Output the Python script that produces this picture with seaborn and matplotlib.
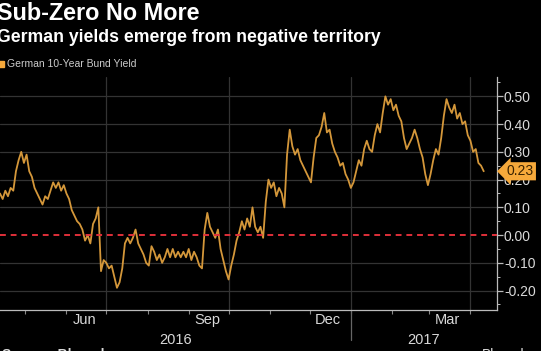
import pandas as pd
import matplotlib.pyplot as plt
import matplotlib.dates as mdates
import matplotlib.ticker as mticker
import matplotlib.transforms as mtrans
import seaborn as sns

# ------------------------------------------------------------------
# Daten: Rendite der 10-jaehrigen Bundesanleihe (alle 2 Tage abgelesen)
# ------------------------------------------------------------------
start_date = "2016-04-12"
bund_yield = [
    0.15, 0.13, 0.16, 0.14, 0.17, 0.16, 0.23, 0.27, 0.30, 0.26,
    0.29, 0.23, 0.21, 0.17, 0.15, 0.13, 0.11, 0.14, 0.13, 0.16,
    0.19, 0.17, 0.19, 0.16, 0.18, 0.15, 0.13, 0.09, 0.07, 0.05,
    0.04, 0.02, -0.02, 0.00, -0.03, 0.04, 0.06, 0.10, -0.13, -0.09,
    -0.10, -0.12, -0.11, -0.15, -0.19, -0.17, -0.12, -0.03, -0.01, -0.03,
    -0.01, 0.02, -0.03, -0.05, -0.07, -0.10, -0.11, -0.04, -0.06, -0.09,
    -0.07, -0.10, -0.08, -0.05, -0.08, -0.05, -0.08, -0.06, -0.08, -0.06,
    -0.08, -0.05, -0.09, -0.06, -0.08, -0.11, -0.12, 0.02, 0.08, 0.03,
    0.01, -0.01, 0.02, -0.05, -0.09, -0.13, -0.16, -0.11, -0.07, -0.02,
    0.01, 0.05, 0.02, 0.06, 0.03, 0.10, 0.03, 0.01, 0.03, -0.01,
    0.12, 0.20, 0.17, 0.19, 0.14, 0.17, 0.15, 0.10, 0.29, 0.38,
    0.32, 0.29, 0.31, 0.27, 0.25, 0.23, 0.21, 0.19, 0.28, 0.35,
    0.36, 0.39, 0.44, 0.37, 0.38, 0.33, 0.30, 0.28, 0.25, 0.26,
    0.22, 0.20, 0.17, 0.19, 0.23, 0.27, 0.25, 0.31, 0.34, 0.31,
    0.30, 0.36, 0.40, 0.37, 0.44, 0.50, 0.47, 0.49, 0.45, 0.47,
    0.43, 0.41, 0.35, 0.31, 0.33, 0.35, 0.38, 0.35, 0.31, 0.28,
    0.22, 0.18, 0.22, 0.27, 0.31, 0.29, 0.35, 0.43, 0.49, 0.46,
    0.44, 0.47, 0.42, 0.44, 0.40, 0.41, 0.36, 0.34, 0.30, 0.31,
    0.26, 0.25, 0.23,
]
y_ticks = [-0.20, -0.10, 0.00, 0.10, 0.20, 0.30, 0.40, 0.50]
month_labels = ["Jun", "Sep", "Dec", "Mar"]
year_labels = ["2016", "2017"]
last_value = "0.23"

df = pd.DataFrame({
    "Datum": pd.date_range(start_date, periods=len(bund_yield), freq="2D"),
    "Rendite": bund_yield,
})

# ------------------------------------------------------------------
# Stil
# ------------------------------------------------------------------
bg = "black"
txt = "#d9d9d9"
gold = "#d4973a"
grid_c = "#333333"

sns.set_theme(style="dark", rc={
    "figure.facecolor": bg, "axes.facecolor": bg, "savefig.facecolor": bg,
    "axes.unicode_minus": False,
})
plt.rcParams["font.family"] = ["Liberation Sans", "DejaVu Sans"]

fig = plt.figure(figsize=(5.41, 3.51), dpi=100)
ax = fig.add_axes([0.0, 0.1168, 0.9187, 0.664])

# Gitterlinien
for v in y_ticks:
    if v != 0:
        ax.axhline(v, color=grid_c, lw=0.9, zorder=0)
for q in pd.date_range("2016-04-01", "2017-04-01", freq="QS"):
    ax.axvline(q, color=grid_c, lw=0.9, zorder=0)

sns.lineplot(data=df, x="Datum", y="Rendite", color=gold, lw=1.3, ax=ax, zorder=3)
ax.axhline(0, color="#e0303a", lw=1.4, ls=(0, (3, 2.5)), zorder=4)

ax.set_xlim(pd.Timestamp("2016-04-12"), pd.Timestamp("2017-04-21"))
ax.set_ylim(-0.27, 0.57)
ax.set_xlabel("")
ax.set_ylabel("")

# Achsen
for s in ["top", "left"]:
    ax.spines[s].set_visible(False)
for s in ["right", "bottom"]:
    ax.spines[s].set_visible(True)
    ax.spines[s].set_color("#bbbbbb")
    ax.spines[s].set_linewidth(0.9)

ax.yaxis.tick_right()
ax.set_yticks(y_ticks)
ax.yaxis.set_major_formatter(mticker.FuncFormatter(lambda v, p: f"{v:.2f}"))
ax.yaxis.set_minor_locator(mticker.MultipleLocator(0.05))
ax.tick_params(axis="y", which="major", direction="out", length=4, width=0.9,
               color="#bbbbbb", labelcolor=txt, labelsize=10, pad=1, right=True, left=False)
ax.tick_params(axis="y", which="minor", direction="out", length=2, width=0.7,
               color="#bbbbbb", right=True, left=False)

ax.xaxis.set_major_locator(mdates.MonthLocator(bymonth=[6, 9, 12, 3], bymonthday=15))
ax.xaxis.set_major_formatter(mticker.FuncFormatter(
    lambda v, p: mdates.num2date(v).strftime("%b")))
ax.xaxis.set_minor_locator(mdates.MonthLocator())
ax.tick_params(axis="x", which="major", length=0, labelcolor=txt, labelsize=10.5, pad=2)
ax.tick_params(axis="x", which="minor", direction="out", length=3, width=0.8,
               color="#888888", bottom=True)

# Jahresbeschriftung und Trenner
trans = mtrans.blended_transform_factory(ax.transData, ax.transAxes)
x0, x1 = ax.get_xlim()
jan1 = mdates.date2num(pd.Timestamp("2017-01-01"))
ax.text((x0 + jan1) / 2, -0.10, year_labels[0], transform=trans, ha="center",
        va="top", color=txt, fontsize=10.5)
ax.text((jan1 + x1) / 2, -0.10, year_labels[1], transform=trans, ha="center",
        va="top", color=txt, fontsize=10.5)
ax.plot([jan1, jan1], [0, -0.13], transform=trans, color="#666666", lw=0.9, clip_on=False)

# Markierung letzter Wert
ax.annotate(last_value, xy=(1.0, df["Rendite"].iloc[-1]),
            xycoords=mtrans.blended_transform_factory(ax.transAxes, ax.transData),
            xytext=(7, 0), textcoords="offset points", ha="left", va="center",
            fontsize=10, color="#3a2200",
            bbox=dict(boxstyle="larrow,pad=0.15", fc="#f6a93b", ec="none"))

# Titel und Legende
fig.text(-0.006, 0.962, "Sub-Zero No More", ha="left", va="center",
         color="white", fontsize=16.8, fontweight="bold")
fig.text(-0.006, 0.892, "German yields emerge from negative territory", ha="left",
         va="center", color="white", fontsize=12.7, fontweight="bold")
fig.patches.append(plt.Rectangle((-0.004, 0.810), 0.011, 0.017, transform=fig.transFigure,
                                 color="#f6a93b", figure=fig))
fig.text(0.013, 0.818, "German 10-Year Bund Yield", ha="left", va="center",
         color="#cccccc", fontsize=7.5)
fig.text(0.004, 0.008, "Source: Bloomberg", ha="left", va="top", color=txt,
         fontsize=10, fontweight="bold")
fig.text(0.89, 0.008, "Bloomberg", ha="left", va="top", color=txt, fontsize=10)

plt.savefig("out.png", dpi=100, facecolor=bg)
plt.close()
